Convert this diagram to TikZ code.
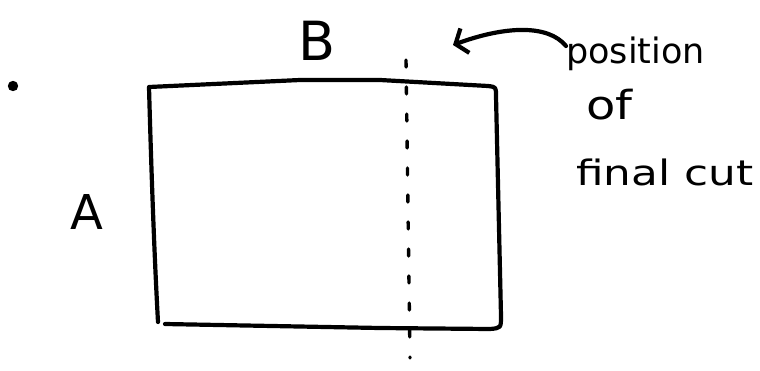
\documentclass[tikz,border=0pt]{standalone}
\usepackage{fontspec}
\setmainfont{DejaVu Sans}
\usetikzlibrary{arrows.meta}
\begin{document}
\begin{tikzpicture}[x=1pt,y=-1pt,
  pen/.style={line width=4.2pt,line cap=round,line join=round,black},
  cutline/.style={line width=3.4pt,line cap=round,dash pattern=on 7pt off 20pt,dash phase=0pt},
  hand/.style={inner sep=0pt,anchor=base west},
  letter/.style={hand,font=\fontsize{54}{56}\selectfont},
  note/.style={hand,font=\fontsize{35}{37}\selectfont}]
\useasboundingbox (0,0) rectangle (760,370);
\fill[white] (0,0) rectangle (760,370);

% sheet outline
\draw[pen] (158,322) .. controls (154,250) and (151,160) .. (149,87)
  -- (300,80) -- (380,80) -- (488,86)
  .. controls (496,87) .. (496,96) -- (501,316)
  .. controls (501,328) .. (490,329) -- (380,328) -- (165,324);

% stray dot
\fill (13,86) circle (5.2pt);

% position of the final cut
\coordinate (cuttop) at (406,60);
\coordinate (cutbot) at (410,358);
\draw[cutline] (cuttop) -- (cutbot);

% labels
\node[letter] (B) at (298,60) {B};
\node[letter,font=\fontsize{48}{50}\selectfont] (A) at (70,229) {A};
\node[note] (pos) at (566,63) {position};
\node[note,font=\fontsize{40}{42}\selectfont,xscale=1.2] (of) at (586,119) {of};
\node[note,xscale=1.25] (fc) at (576,185) {final cut};

% arrow from the note to the cut line
\coordinate (tip) at (453,45);
\draw[pen,-{Straight Barb[length=10pt,width=26pt]}] (pos.west |- 0,46)
  .. controls (548,24) and (505,26) .. (tip);
\end{tikzpicture}
\end{document}
